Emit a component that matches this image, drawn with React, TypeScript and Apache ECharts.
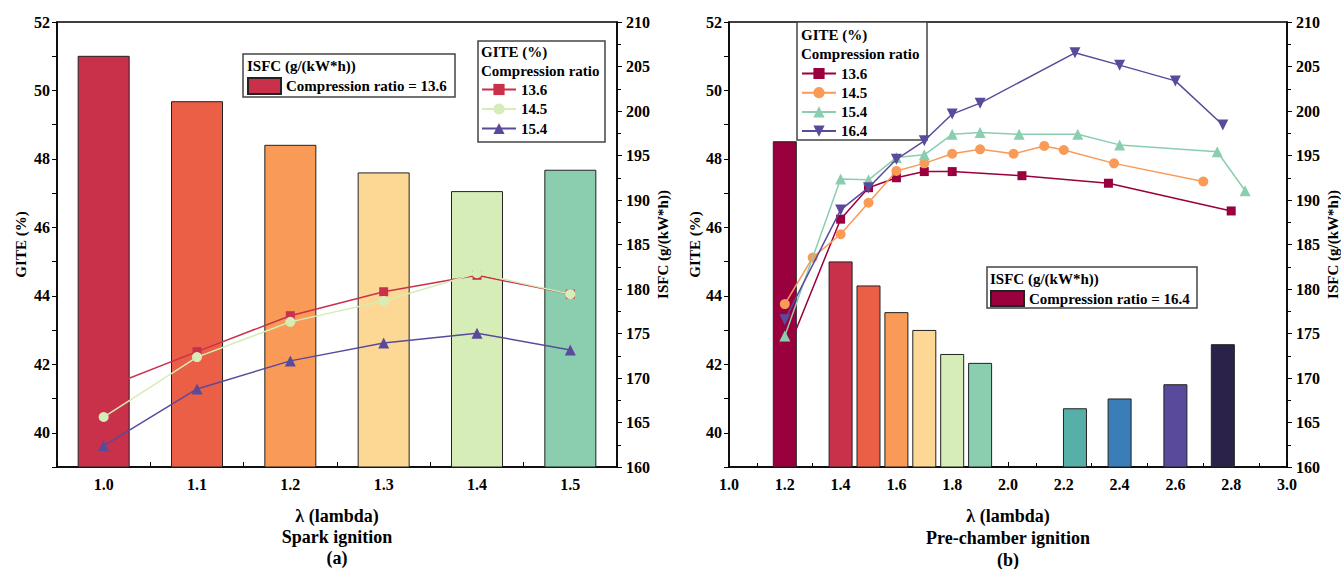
import React, { useEffect, useRef } from "react";
import * as echarts from "echarts";

// ---------- Data: (a) Spark ignition ----------
const lambdaA = ["1.0", "1.1", "1.2", "1.3", "1.4", "1.5"];
const isfcA = [206.2, 201.1, 196.2, 193.1, 191.0, 193.4];
const barColorsA = ["#C9314A", "#EB5F46", "#F99A56", "#FDD894", "#D6EDB8", "#8BCEAF"];
const giteA136 = [41.3, 42.37, 43.42, 44.12, 44.6, 44.05];
const giteA145 = [40.46, 42.21, 43.24, 43.85, 44.66, 44.05];
const giteA154 = [39.62, 41.28, 42.1, 42.62, 42.91, 42.42];

// ---------- Data: (b) Pre-chamber ignition ----------
const lambdaBBar = [1.2, 1.4, 1.5, 1.6, 1.7, 1.8, 1.9, 2.24, 2.4, 2.6, 2.77];
const isfcB = [196.6, 183.1, 180.4, 177.4, 175.4, 172.7, 171.7, 166.6, 167.7, 169.3, 173.8];
const barColorsB = ["#99003D", "#C9314A", "#EB5F46", "#F99A56", "#FDD894", "#D6EDB8", "#8BCEAF", "#57B0A7", "#397EB8", "#5A4A9B", "#2A2249"];

const lamB136 = [1.2, 1.4, 1.5, 1.6, 1.7, 1.8, 2.05, 2.36, 2.8];
const giteB136 = [42.2, 46.24, 47.16, 47.45, 47.63, 47.63, 47.51, 47.29, 46.48];
const lamB145 = [1.2, 1.3, 1.4, 1.5, 1.6, 1.7, 1.8, 1.9, 2.02, 2.13, 2.2, 2.38, 2.7];
const giteB145 = [43.76, 45.12, 45.8, 46.72, 47.65, 47.87, 48.15, 48.28, 48.15, 48.38, 48.26, 47.87, 47.34];
const lamB154 = [1.2, 1.4, 1.5, 1.6, 1.7, 1.8, 1.9, 2.04, 2.25, 2.4, 2.75, 2.85];
const giteB154 = [42.83, 47.41, 47.39, 48.04, 48.12, 48.72, 48.77, 48.72, 48.72, 48.41, 48.21, 47.07];
const lamB164 = [1.2, 1.4, 1.5, 1.6, 1.7, 1.8, 1.9, 2.24, 2.4, 2.6, 2.77];
const giteB164 = [43.3, 46.51, 47.16, 47.99, 48.53, 49.31, 49.63, 51.1, 50.74, 50.28, 48.99];

const FONT = "Liberation Serif";
const txt = (size: number) => ({ fontFamily: FONT, fontWeight: "bold" as const, fontSize: size, color: "#000" });

function pairs(xs: number[], ys: number[]) {
  return xs.map((x, i) => [x, ys[i]]);
}

export default function App() {
  const ref = useRef<HTMLDivElement>(null);
  useEffect(() => {
    if (!ref.current) return;
    const chart = echarts.init(ref.current, null, { renderer: "svg" });

    const axisLine = { show: true, lineStyle: { color: "#000", width: 1.5 } };
    const gite = (gridIdx: number, gap: number) => ({
      type: "value",
      gridIndex: gridIdx,
      position: "left",
      min: 39,
      max: 52,
      interval: 1,
      name: "GITE (%)",
      nameLocation: "middle",
      nameGap: gap,
      nameTextStyle: txt(15),
      axisLine,
      axisTick: { show: true, inside: false, length: 5, lineStyle: { color: "#000" } },
      axisLabel: { ...txt(16), margin: 7, formatter: (v: number) => (v % 2 === 0 ? String(v) : "") },
      splitLine: { show: false },
    });
    const isfc = (gridIdx: number) => ({
      type: "value",
      gridIndex: gridIdx,
      position: "right",
      min: 160,
      max: 210,
      interval: 5,
      name: "ISFC (g/(kW*h))",
      nameLocation: "middle",
      nameGap: 38,
      nameTextStyle: txt(15),
      axisLine,
      axisTick: { show: true, inside: false, length: 5, lineStyle: { color: "#000" } },
      minorTick: { show: true, splitNumber: 2, length: 4, lineStyle: { color: "#000" } },
      axisLabel: { ...txt(16), margin: 9 },
      splitLine: { show: false },
    });

    const legendName = (n: string) => n.split(":")[1];
    const fontCss = (s: number) => `bold ${s}px "${FONT}"`;

    chart.setOption({
      animation: false,
      backgroundColor: "#fff",
      textStyle: { fontFamily: FONT, fontWeight: "bold" },
      grid: [
        { left: 57, top: 22, width: 560, height: 445, show: true, borderColor: "#000", borderWidth: 1.5 },
        { left: 729, top: 22, width: 558, height: 445, show: true, borderColor: "#000", borderWidth: 1.5 },
      ],
      xAxis: [
        {
          type: "category",
          gridIndex: 0,
          data: lambdaA,
          boundaryGap: true,
          name: "λ (lambda)",
          nameLocation: "middle",
          nameGap: 40,
          nameTextStyle: txt(18),
          axisLine,
          axisTick: { show: true, inside: true, length: 5, alignWithLabel: false, lineStyle: { color: "#000" } },
          axisLabel: { ...txt(16), margin: 9 },
        },
        {
          type: "value",
          gridIndex: 1,
          min: 1,
          max: 3,
          interval: 0.2,
          name: "λ (lambda)",
          nameLocation: "middle",
          nameGap: 40,
          nameTextStyle: txt(18),
          axisLine,
          axisTick: { show: true, inside: true, length: 5, lineStyle: { color: "#000" } },
          minorTick: { show: true, splitNumber: 2, length: 4, lineStyle: { color: "#000" } },
          axisLabel: { ...txt(16), margin: 9, formatter: (v: number) => v.toFixed(1) },
          splitLine: { show: false },
        },
      ],
      yAxis: [gite(0, 29), isfc(0), gite(1, 27), isfc(1)],
      legend: [
        {
          data: [{ name: "a:bar", icon: "rect" }],
          left: 247,
          top: 77,
          padding: 0,
          itemWidth: 33,
          itemHeight: 16,
          selectedMode: false,
          formatter: () => "Compression ratio = 13.6",
          textStyle: txt(15),
        },
        {
          data: ["a:13.6", "a:14.5", "a:15.4"],
          orient: "vertical",
          left: 481,
          top: 82,
          padding: 0,
          itemWidth: 34,
          itemHeight: 14,
          itemGap: 4.5,
          selectedMode: false,
          formatter: legendName,
          textStyle: txt(15),
        },
        {
          data: ["b:13.6", "b:14.5", "b:15.4", "b:16.4"],
          orient: "vertical",
          left: 801,
          top: 66,
          padding: 0,
          itemWidth: 34,
          itemHeight: 14,
          itemGap: 4.2,
          selectedMode: false,
          formatter: legendName,
          textStyle: txt(15),
        },
        {
          data: [{ name: "b:bar", icon: "rect" }],
          left: 990,
          top: 290,
          padding: 0,
          itemWidth: 33,
          itemHeight: 15,
          selectedMode: false,
          formatter: () => "Compression ratio = 16.4",
          textStyle: txt(15),
        },
      ],
      graphic: [
        { type: "rect", z: 1, shape: { x: 243, y: 54, width: 212, height: 43 }, style: { fill: "#fff", stroke: "#444", lineWidth: 1.5 } },
        { type: "text", z: 5, x: 247, y: 66, style: { text: "ISFC (g/(kW*h))", font: fontCss(15), fill: "#000", verticalAlign: "middle" } },
        { type: "rect", z: 1, shape: { x: 478, y: 41, width: 127, height: 101 }, style: { fill: "#fff", stroke: "#444", lineWidth: 1.5 } },
        { type: "text", z: 5, x: 481, y: 52, style: { text: "GITE (%)", font: fontCss(15), fill: "#000", verticalAlign: "middle" } },
        { type: "text", z: 5, x: 481, y: 71, style: { text: "Compression ratio", font: fontCss(15), fill: "#000", verticalAlign: "middle" } },
        { type: "rect", z: 1, shape: { x: 797, y: 22, width: 130, height: 118 }, style: { fill: "#fff", stroke: "#444", lineWidth: 1.5 } },
        { type: "text", z: 5, x: 801, y: 35, style: { text: "GITE (%)", font: fontCss(15), fill: "#000", verticalAlign: "middle" } },
        { type: "text", z: 5, x: 801, y: 54, style: { text: "Compression ratio", font: fontCss(15), fill: "#000", verticalAlign: "middle" } },
        { type: "rect", z: 1, shape: { x: 987, y: 267, width: 210, height: 41 }, style: { fill: "#fff", stroke: "#444", lineWidth: 1.5 } },
        { type: "text", z: 5, x: 990, y: 279, style: { text: "ISFC (g/(kW*h))", font: fontCss(15), fill: "#000", verticalAlign: "middle" } },
        { type: "text", z: 5, x: 337, y: 537, style: { text: "Spark ignition", font: fontCss(18), fill: "#000", align: "center", verticalAlign: "middle" } },
        { type: "text", z: 5, x: 337, y: 558, style: { text: "(a)", font: fontCss(18), fill: "#000", align: "center", verticalAlign: "middle" } },
        { type: "text", z: 5, x: 1008, y: 538, style: { text: "Pre-chamber ignition", font: fontCss(18), fill: "#000", align: "center", verticalAlign: "middle" } },
        { type: "text", z: 5, x: 1008, y: 560, style: { text: "(b)", font: fontCss(18), fill: "#000", align: "center", verticalAlign: "middle" } },
      ],
      series: [
        {
          name: "a:bar",
          type: "bar",
          xAxisIndex: 0,
          yAxisIndex: 1,
          barWidth: 52,
          itemStyle: { color: barColorsA[0], borderColor: "#222", borderWidth: 1 },
          data: isfcA.map((v, i) => ({ value: v, itemStyle: { color: barColorsA[i] } })),
          z: 2,
        },
        {
          name: "a:13.6",
          type: "line",
          xAxisIndex: 0,
          yAxisIndex: 0,
          data: giteA136,
          symbol: "rect",
          symbolSize: 9,
          lineStyle: { width: 1.5, color: "#C9314A" },
          itemStyle: { color: "#C9314A" },
          z: 3,
        },
        {
          name: "a:14.5",
          type: "line",
          xAxisIndex: 0,
          yAxisIndex: 0,
          data: giteA145,
          symbol: "circle",
          symbolSize: 10,
          lineStyle: { width: 1.5, color: "#D6EDB8" },
          itemStyle: { color: "#D6EDB8" },
          z: 4,
        },
        {
          name: "a:15.4",
          type: "line",
          xAxisIndex: 0,
          yAxisIndex: 0,
          data: giteA154,
          symbol: "triangle",
          symbolSize: 11,
          lineStyle: { width: 1.5, color: "#5A4A9B" },
          itemStyle: { color: "#5A4A9B" },
          z: 5,
        },
        {
          name: "b:bar",
          type: "bar",
          xAxisIndex: 1,
          yAxisIndex: 3,
          barWidth: 24,
          itemStyle: { color: barColorsB[0], borderColor: "#222", borderWidth: 1 },
          data: lambdaBBar.map((x, i) => ({ value: [x, isfcB[i]], itemStyle: { color: barColorsB[i] } })),
          z: 2,
        },
        {
          name: "b:13.6",
          type: "line",
          xAxisIndex: 1,
          yAxisIndex: 2,
          data: pairs(lamB136, giteB136),
          symbol: "rect",
          symbolSize: 9,
          lineStyle: { width: 1.5, color: "#99003D" },
          itemStyle: { color: "#99003D" },
          z: 3,
        },
        {
          name: "b:14.5",
          type: "line",
          xAxisIndex: 1,
          yAxisIndex: 2,
          data: pairs(lamB145, giteB145),
          symbol: "circle",
          symbolSize: 10,
          lineStyle: { width: 1.5, color: "#F99A56" },
          itemStyle: { color: "#F99A56" },
          z: 4,
        },
        {
          name: "b:15.4",
          type: "line",
          xAxisIndex: 1,
          yAxisIndex: 2,
          data: pairs(lamB154, giteB154),
          symbol: "triangle",
          symbolSize: 11,
          lineStyle: { width: 1.5, color: "#8BCEAF" },
          itemStyle: { color: "#8BCEAF" },
          z: 5,
        },
        {
          name: "b:16.4",
          type: "line",
          xAxisIndex: 1,
          yAxisIndex: 2,
          data: pairs(lamB164, giteB164),
          symbol: "triangle",
          symbolRotate: 180,
          symbolSize: 11,
          lineStyle: { width: 1.5, color: "#5A4A9B" },
          itemStyle: { color: "#5A4A9B" },
          z: 6,
        },
      ],
    });
    return () => chart.dispose();
  }, []);
  return (
    <div
      ref={ref}
      style={{ position: "fixed", left: 0, top: 0, width: 1341, height: 569, background: "#fff" }}
    />
  );
}
